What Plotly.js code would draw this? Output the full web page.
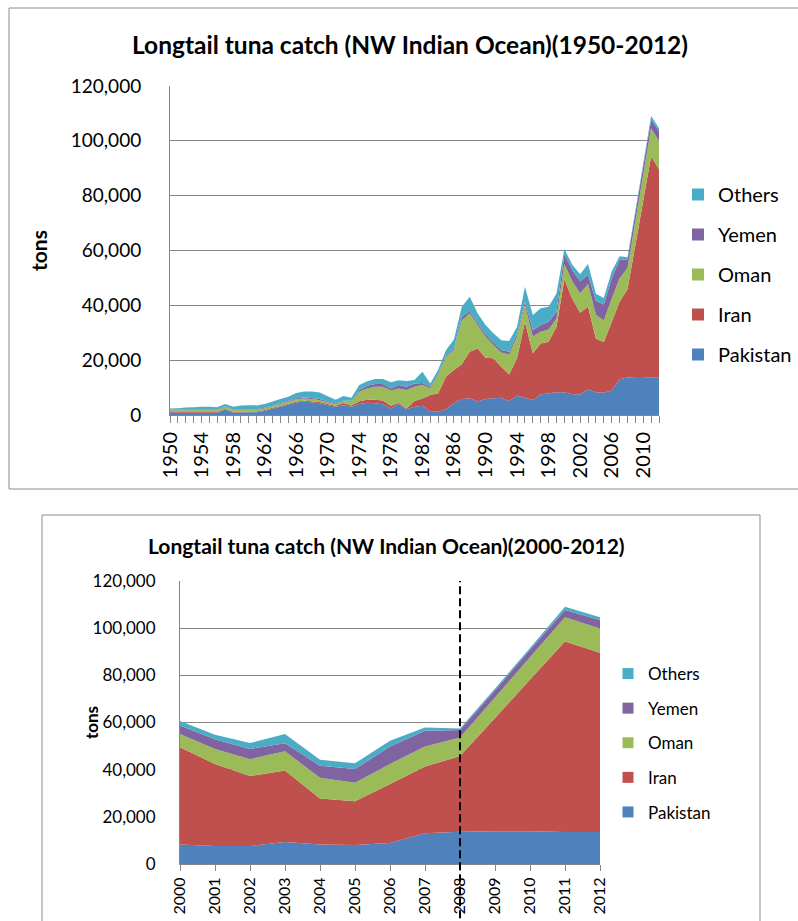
<!DOCTYPE html>
<html><head><meta charset="utf-8">
<script src="https://cdn.plot.ly/plotly-3.0.1.min.js"></script>
<style>html,body{margin:0;padding:0;background:#fff;} #chart{width:798px;height:921px;}</style>
</head><body><div id="chart"></div>
<script>
const years = [1950,1951,1952,1953,1954,1955,1956,1957,1958,1959,
  1960,1961,1962,1963,1964,1965,1966,1967,1968,1969,
  1970,1971,1972,1973,1974,1975,1976,1977,1978,1979,
  1980,1981,1982,1983,1984,1985,1986,1987,1988,1989,
  1990,1991,1992,1993,1994,1995,1996,1997,1998,1999,
  2000,2001,2002,2003,2004,2005,2006,2007,2008,2009,
  2010,2011,2012];
const pakistan = [800,800,800,800,800,800,800,2000,900,900,
  1000,1000,1500,2300,3000,3800,4600,4900,4600,4300,
  3600,3000,3600,3000,4000,4500,4300,3900,2400,4000,
  2100,3000,3400,1200,1200,2100,4300,5800,6100,4900,
  5800,6100,6300,5100,7000,6300,5500,7500,7900,8300,
  8300,7600,7600,9300,8300,8100,8900,13000,13700,13900,
  13900,13600,13600];
const iran = [300,300,300,300,300,300,300,300,300,300,
  300,300,300,300,300,300,300,300,400,400,
  400,400,800,500,1000,1100,1300,1400,1000,500,
  300,2100,2600,6100,6700,11900,12100,12700,17000,19400,
  15100,14600,11300,9700,13700,27700,17000,18600,18800,23900,
  41200,34800,29700,30300,19500,18500,25000,28300,32100,48000,
  64300,80700,76000];
const oman = [600,600,600,600,700,700,600,700,600,600,
  600,600,600,600,700,700,800,800,800,700,
  600,500,600,1400,3500,4100,4700,5000,5500,5200,
  6700,5200,4900,2500,6700,7300,7300,16100,14000,8500,
  7700,4800,5200,7300,7900,6100,6100,4300,4500,3000,
  5600,6400,7100,8200,8800,7900,8500,8500,7800,8700,
  9500,10300,10300];
const yemen = [200,200,200,200,200,200,200,200,200,200,
  200,200,200,200,300,300,400,400,400,400,
  300,300,300,300,600,1000,1000,1000,800,1200,
  1200,1200,800,500,500,500,600,1200,800,800,
  900,1000,900,1000,1000,1200,2400,2400,2800,2500,
  3600,4100,4400,3400,5100,5800,7400,6700,3200,3100,
  3100,3100,3600];
const others = [500,600,800,900,1000,1000,900,800,1000,1500,
  1500,1400,1400,1500,1500,1600,1900,2200,2400,2400,
  1900,1400,1600,1100,1800,1600,1800,1800,2200,1800,
  2100,1300,4100,1200,1400,1900,3200,3700,5200,3500,
  3300,3300,3600,3900,2600,5500,5500,6100,5500,6600,
  1900,1900,2500,3900,2500,2400,2500,1400,700,700,
  800,1400,1100];

const seriesNames = ['Pakistan','Iran','Oman','Yemen','Others'];
const seriesData = [pakistan, iran, oman, yemen, others];
const seriesColors = ['#4F81BD','#C0504D','#9BBB59','#8064A2','#4BACC6'];
const zoomStartYear = 2000;
const markerYear = 2008;
const titleTop = '<b>Longtail tuna catch (NW Indian Ocean)(1950-2012)</b>';
const titleBottom = '<b>Longtail tuna catch (NW Indian Ocean)(2000-2012)</b>';
const yTitle = '<b>tons</b>';

const W = 798, H = 921;
const px = v => v / W;
const py = v => 1 - v / H;

const startIdx = years.indexOf(zoomStartYear);
const traces = [];
seriesNames.forEach((name, i) => {
  traces.push({
    type: 'scatter', x: years, y: seriesData[i], stackgroup: 'top', mode: 'none',
    fillcolor: seriesColors[i], name: name, showlegend: false, xaxis: 'x', yaxis: 'y',
    hoverinfo: 'skip'
  });
  traces.push({
    type: 'scatter', x: years.slice(startIdx), y: seriesData[i].slice(startIdx), stackgroup: 'bot', mode: 'none',
    fillcolor: seriesColors[i], name: name, showlegend: false, xaxis: 'x2', yaxis: 'y2',
    hoverinfo: 'skip'
  });
});
// legend entries (square swatches), listed top (Others) to bottom (Pakistan)
for (let i = seriesNames.length - 1; i >= 0; i--) {
  const name = seriesNames[i];
  traces.push({
    type: 'scatter', x: [null], y: [null], mode: 'markers', name: name,
    marker: {symbol: 'square', size: 12, color: seriesColors[i]},
    legend: 'legend', legendgroup: 'a' + i, xaxis: 'x', yaxis: 'y'
  });
  traces.push({
    type: 'scatter', x: [null], y: [null], mode: 'markers', name: name,
    marker: {symbol: 'square', size: 11, color: seriesColors[i]},
    legend: 'legend2', legendgroup: 'b' + i, xaxis: 'x2', yaxis: 'y2'
  });
}

const grey = '#868686';
const layout = {
  width: W, height: H, autosize: false,
  margin: {l: 0, r: 0, t: 0, b: 0},
  paper_bgcolor: '#ffffff', plot_bgcolor: 'rgba(0,0,0,0)',
  font: {family: 'Lato, "Open Sans", sans-serif', color: '#000'},
  showlegend: true,
  title: {text: titleTop, x: px(410), y: py(45), xref: 'paper', yref: 'paper',
          xanchor: 'center', yanchor: 'middle', font: {size: 24.5, color: '#000'}},
  xaxis: {
    domain: [px(170), px(659)], range: [1950, 2012], anchor: 'y',
    tick0: 1950, dtick: 4, tickangle: -90, ticks: 'outside', ticklen: 7, tickcolor: grey,
    showline: true, linecolor: grey, linewidth: 1, showgrid: false, zeroline: false,
    tickfont: {size: 20}, ticklabelstandoff: 1,
    minor: {dtick: 1, ticks: 'outside', ticklen: 7, tickcolor: grey, showgrid: false},
    fixedrange: true
  },
  yaxis: {
    domain: [py(415), py(86)], range: [0, 120000], anchor: 'x',
    dtick: 20000, tickformat: ',d', showgrid: true, gridcolor: grey, gridwidth: 1,
    showline: true, linecolor: grey, zeroline: false,
    ticks: 'outside', ticklen: 24, tickcolor: 'rgba(0,0,0,0)',
    tickfont: {size: 19},
    title: {text: yTitle, font: {size: 21}, standoff: 17},
    fixedrange: true
  },
  xaxis2: {
    domain: [px(180), px(600)], range: [2000, 2012], anchor: 'y2',
    dtick: 1, tickangle: -90, ticks: 'outside', ticklen: 6, tickcolor: grey,
    showline: true, linecolor: grey, showgrid: false, zeroline: false,
    tickfont: {size: 16}, ticklabelstandoff: 0, fixedrange: true
  },
  yaxis2: {
    domain: [py(864), py(581)], range: [0, 120000], anchor: 'x2',
    dtick: 20000, tickformat: ',d', showgrid: true, gridcolor: grey, gridwidth: 1,
    showline: true, linecolor: grey, zeroline: false,
    ticks: 'outside', ticklen: 20, tickcolor: 'rgba(0,0,0,0)',
    tickfont: {size: 17},
    fixedrange: true
  },
  legend: {
    x: px(678), y: py(175), xanchor: 'left', yanchor: 'top', xref: 'paper', yref: 'paper',
    traceorder: 'grouped', tracegroupgap: 11, font: {size: 20},
    bgcolor: 'rgba(0,0,0,0)', borderwidth: 0
  },
  legend2: {
    x: px(608), y: py(656), xanchor: 'left', yanchor: 'top', xref: 'paper', yref: 'paper',
    traceorder: 'grouped', tracegroupgap: 9.5, font: {size: 17},
    bgcolor: 'rgba(0,0,0,0)', borderwidth: 0
  },
  annotations: [{
    text: titleBottom, xref: 'paper', yref: 'paper', x: px(386), y: py(545),
    xanchor: 'center', yanchor: 'middle', showarrow: false, font: {size: 21, color: '#000'}
  }, {
    text: yTitle, xref: 'paper', yref: 'paper', x: px(91), y: py(723), textangle: -90,
    xanchor: 'center', yanchor: 'middle', showarrow: false, font: {size: 17, color: '#000'}
  }],
  shapes: [
    {type: 'rect', xref: 'paper', yref: 'paper', x0: px(9), x1: 1.05, y0: py(489), y1: py(8),
     line: {color: '#8c8c8c', width: 1}, fillcolor: 'rgba(0,0,0,0)', layer: 'below'},
    {type: 'rect', xref: 'paper', yref: 'paper', x0: px(42), x1: px(760), y0: -0.05, y1: py(515),
     line: {color: '#8c8c8c', width: 1}, fillcolor: 'rgba(0,0,0,0)', layer: 'below'},
    {type: 'line', xref: 'x2', yref: 'paper', x0: markerYear, x1: markerYear, y0: -0.01, y1: py(581),
     line: {color: '#000', width: 2, dash: '8px,4px'}}
  ]
};

Plotly.newPlot('chart', traces, layout, {displayModeBar: false, staticPlot: true});
</script>
</body></html>
